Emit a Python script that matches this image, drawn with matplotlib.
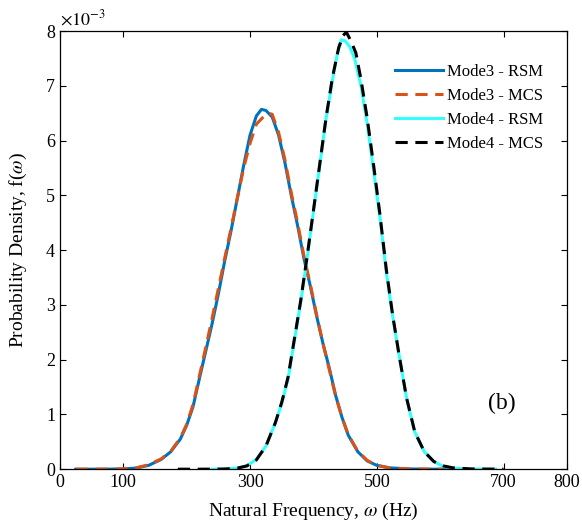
import matplotlib
matplotlib.use("Agg")
import matplotlib.pyplot as plt

plt.rcParams["font.family"] = ["Liberation Serif", "DejaVu Serif"]
plt.rcParams["mathtext.fontset"] = "stix"

# --- data (density in units of 1e-3) ---
m3_rsm_x = [25, 50, 75, 100, 120, 140, 160, 175, 190, 200, 210, 220, 230, 240, 250, 260, 270,
            280, 290, 300, 310, 318, 325, 335, 345, 355, 365, 375, 385, 395, 405, 415, 425,
            435, 445, 455, 470, 485, 500, 520, 550, 580, 610]
m3_rsm_y = [0, 0, 0.001, 0.005, 0.02, 0.07, 0.18, 0.32, 0.55, 0.80, 1.14, 1.65, 2.15, 2.65, 3.2,
            3.8, 4.35, 4.95, 5.55, 6.1, 6.45, 6.57, 6.55, 6.43, 6.1, 5.6, 5.0, 4.45, 3.85, 3.35,
            2.8, 2.3, 1.85, 1.35, 0.95, 0.62, 0.32, 0.15, 0.07, 0.025, 0.005, 0.001, 0]

m3_mcs_x = [25, 50, 75, 100, 120, 140, 160, 175, 190, 200, 210, 220, 230, 240, 250, 260, 270,
            280, 290, 300, 310, 320, 328, 335, 345, 355, 365, 375, 385, 395, 405, 415, 425,
            435, 445, 455, 470, 485, 500, 520, 550, 580, 605]
m3_mcs_y = [0, 0, 0.001, 0.006, 0.025, 0.08, 0.19, 0.33, 0.57, 0.82, 1.18, 1.7, 2.22, 2.75, 3.3,
            3.85, 4.4, 4.95, 5.5, 5.95, 6.3, 6.42, 6.5, 6.48, 6.15, 5.65, 5.05, 4.5, 3.9, 3.38,
            2.82, 2.3, 1.82, 1.34, 0.95, 0.63, 0.33, 0.16, 0.07, 0.025, 0.005, 0.001, 0]

m4_rsm_x = [240, 260, 280, 295, 310, 325, 340, 350, 360, 370, 380, 390, 400, 410, 420, 430, 438,
            444, 450, 457, 465, 475, 485, 495, 505, 515, 525, 535, 547, 560, 575, 590, 605,
            620, 650, 688]
m4_rsm_y = [0, 0.003, 0.02, 0.06, 0.18, 0.42, 0.85, 1.2, 1.65, 2.35, 3.05, 3.85, 4.7, 5.55, 6.4,
            7.1, 7.6, 7.84, 7.82, 7.72, 7.5, 7.0, 6.3, 5.45, 4.6, 3.6, 2.8, 2.1, 1.3, 0.68, 0.32,
            0.14, 0.05, 0.02, 0.003, 0]

m4_mcs_x = [186, 220, 260, 280, 295, 310, 325, 340, 350, 360, 370, 380, 390, 400, 410, 420, 430,
            440, 447, 452, 460, 467, 475, 485, 495, 505, 515, 525, 535, 547, 560, 575, 590,
            605, 620, 650, 700]
m4_mcs_y = [0, 0, 0.003, 0.02, 0.06, 0.17, 0.42, 0.85, 1.22, 1.68, 2.38, 3.08, 3.88, 4.72, 5.57,
            6.42, 7.15, 7.7, 7.92, 7.98, 7.8, 7.6, 7.12, 6.4, 5.55, 4.65, 3.65, 2.82, 2.1, 1.3,
            0.68, 0.32, 0.14, 0.06, 0.025, 0.004, 0]

xticks = [0, 100, 300, 500, 700, 800]
yticks = [0, 1, 2, 3, 4, 5, 6, 7, 8]

fig = plt.figure(figsize=(5.82, 5.26), dpi=100)
ax = fig.add_axes([0.103, 0.108, 0.871, 0.833])

ax.plot(m3_rsm_x, m3_rsm_y, color="#0072BD", lw=2.2, label="Mode3 - RSM")
ax.plot(m3_mcs_x, m3_mcs_y, color="#D95319", lw=2.2, ls=(0, (4, 2.5)), label="Mode3 - MCS")
ax.plot(m4_rsm_x, m4_rsm_y, color="#33FFFF", lw=2.2, label="Mode4 - RSM")
ax.plot(m4_mcs_x, m4_mcs_y, color="black", lw=2.2, ls=(0, (4, 2.5)), label="Mode4 - MCS")

ax.set_xlim(0, 800)
ax.set_ylim(0, 8)
ax.set_xticks(xticks)
ax.set_yticks(yticks)
ax.tick_params(direction="in", length=4, width=0.8, top=True, right=True, labelsize=13)
for s in ax.spines.values():
    s.set_linewidth(0.9)

ax.set_xlabel(r"Natural Frequency, $\omega$ (Hz)", fontsize=14, labelpad=7)
ax.set_ylabel(r"Probability Density, f($\omega$)", fontsize=14, labelpad=12)
ax.text(0.0, 1.005, r"$\times10^{-3}$", transform=ax.transAxes, fontsize=13, va="bottom", ha="left")
ax.text(0.844, 0.137, "(b)", transform=ax.transAxes, fontsize=17)

ax.legend(loc="upper left", bbox_to_anchor=(0.661, 0.925), frameon=False, fontsize=12,
          borderpad=0, borderaxespad=0, handlelength=2.9, handletextpad=0.2, labelspacing=0.48)

fig.savefig("out.png", dpi=100)
